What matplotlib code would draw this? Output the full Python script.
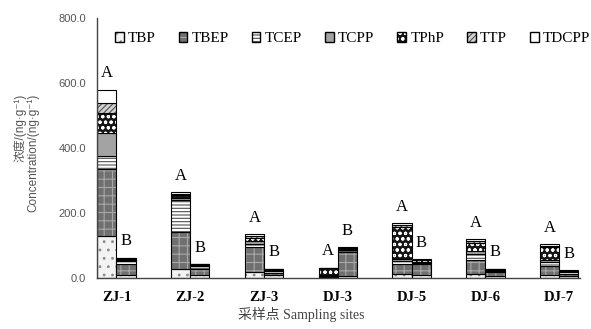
import numpy as np
import matplotlib
matplotlib.use("Agg")
import matplotlib.pyplot as plt
from matplotlib.patches import Patch
from matplotlib.legend_handler import HandlerTuple

sites = ["ZJ-1", "ZJ-2", "ZJ-3", "DJ-3", "DJ-5", "DJ-6", "DJ-7"]
compounds = ["TBP", "TBEP", "TCEP", "TCPP", "TPhP", "TTP", "TDCPP"]

# concentrations (ng/g), season A bars
conc_a = {
    "TBP":   [130, 29, 20, 3, 11, 12, 10],
    "TBEP":  [205, 114, 74, 4, 31, 43, 28],
    "TCEP":  [40, 96, 12, 2, 10, 20, 12],
    "TCPP":  [72, 8, 8, 1, 6, 9, 6],
    "TPhP":  [61, 8, 10, 20, 98, 25, 38],
    "TTP":   [32, 5, 6, 1, 6, 5, 5],
    "TDCPP": [40, 4, 5, 1, 6, 6, 5],
}
# season B bars
conc_b = {
    "TBP":   [10, 8, 8, 5, 8, 7, 6],
    "TBEP":  [33, 20, 8, 75, 35, 10, 6],
    "TCEP":  [8, 8, 5, 5, 3, 5, 5],
    "TCPP":  [5, 4, 3, 4, 3, 3, 3],
    "TPhP":  [4, 2, 3, 3, 5, 2, 2],
    "TTP":   [2, 1, 1, 1, 2, 1, 1],
    "TDCPP": [1, 1, 1, 1, 2, 1, 1],
}
labels_a = ["A"] * 7
labels_b = ["B"] * 7

# face colour, hatch, hatch colour
styles = {
    "TBP":   ("#f3f3f3", "..", "#8a8a8a"),
    "TBEP":  ("#707070", "++", "#a8a8a8"),
    "TCEP":  ("#ffffff", "-----", "#505050"),
    "TCPP":  ("#a3a3a3", "", "#a3a3a3"),
    "TPhP":  ("#151515", "ooo", "#ffffff"),
    "TTP":   ("#d2d2d2", "//////", "#505050"),
    "TDCPP": ("#ffffff", "", "#ffffff"),
}

plt.rcParams["hatch.linewidth"] = 0.8
serif = ["Liberation Serif", "Noto Sans CJK SC"]
sans = ["Liberation Sans", "Noto Sans CJK SC", "DejaVu Sans"]

fig = plt.figure(figsize=(5.91, 3.29), dpi=100)
ax = fig.add_axes([0.164, 0.155, 0.817, 0.79])

x = np.arange(len(sites))
w = 0.26


def stack(xpos, data):
    bottom = np.zeros(len(sites))
    for c in compounds:
        vals = np.array(data[c], dtype=float)
        fc, h, hc = styles[c]
        ax.bar(xpos, vals, w, bottom=bottom, color=fc, edgecolor=hc,
               hatch=h, linewidth=0, align="edge")
        ax.bar(xpos, vals, w, bottom=bottom, fill=False, edgecolor="black",
               linewidth=0.8, align="edge")
        bottom += vals
    return bottom


top_a = stack(x - w, conc_a)
top_b = stack(x, conc_b)

for i in range(len(sites)):
    ax.text(x[i] - w / 2, top_a[i] + 25, labels_a[i], ha="center", va="bottom",
            fontsize=12, family=serif)
    ax.text(x[i] + w / 2, top_b[i] + 25, labels_b[i], ha="center", va="bottom",
            fontsize=12, family=serif)

ax.set_xlim(-w - 0.005, 6.28)
ax.set_ylim(0, 800)
ax.set_yticks(np.arange(0, 801, 200))
ax.set_yticklabels([f"{v:.1f}" for v in np.arange(0, 801, 200)],
                   fontsize=8, color="#555555", family=sans)
ax.set_xticks(x)
ax.set_xticklabels(sites, fontsize=10.5, fontweight="bold", family=serif)
ax.tick_params(axis="both", length=0, pad=8)
ax.tick_params(axis="x", pad=9)
for s in ["top", "right"]:
    ax.spines[s].set_visible(False)
for s in ["left", "bottom"]:
    ax.spines[s].set_color("#444444")
    ax.spines[s].set_linewidth(1.0)

fig.text(0.045, 0.535, "浓度/(ng·g⁻¹)\nConcentration/(ng·g⁻¹)",
         rotation=90, ha="center", va="center", multialignment="right",
         fontsize=8.5, color="#555555", family=sans, linespacing=1.1)
fig.text(0.51, 0.02, "采样点 Sampling sites", ha="center", va="bottom",
         fontsize=10, color="#444444", family=serif)

handles = []
for c in compounds:
    fc, h, hc = styles[c]
    handles.append((Patch(facecolor=fc, edgecolor=hc, hatch=h, linewidth=0),
                    Patch(fill=False, edgecolor="black", linewidth=1.0)))
ax.legend(handles, compounds, handler_map={tuple: HandlerTuple(ndivide=1)},
          loc="center left", bbox_to_anchor=(0.025, 0.92), ncol=7,
          frameon=False, prop={"family": serif, "size": 11},
          handlelength=0.55, handleheight=0.55, handletextpad=0.3,
          columnspacing=1.5, borderaxespad=0)

fig.savefig("out.png", dpi=100)
